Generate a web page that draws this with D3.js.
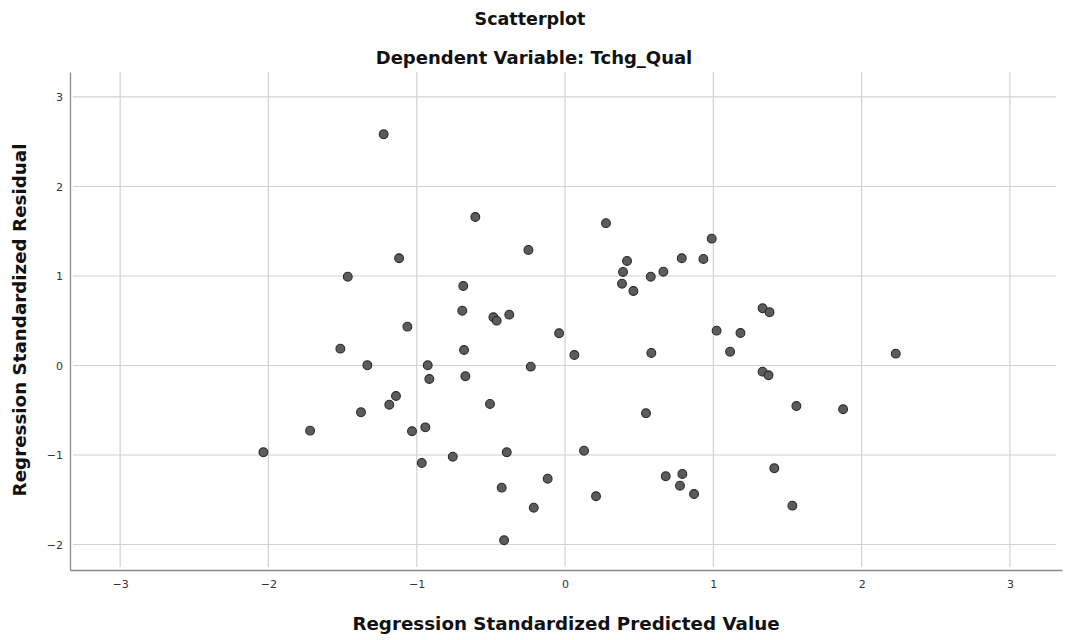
<!DOCTYPE html>
<html>
<head>
<meta charset="utf-8">
<script src="https://cdn.jsdelivr.net/npm/d3@7"></script>
<style>
  body { margin: 0; background: #fff; }
</style>
</head>
<body>
<div id="chart"></div>
<script>
// regression standardized predicted value (x) and residual (y)
const predicted = [
  -1.223, -0.605, 0.276, -0.247, 0.989, -1.119, -1.465, 0.418, 0.787, 0.933,
  0.391, 0.663, 0.578, 0.384, 0.461, -0.686, -0.693, -1.063, -0.483, -0.461,
  -0.376, -0.040, 1.022, 1.183, 1.332, 1.379, -1.515, -1.333, -0.681, 0.063,
  0.582, 1.113, 2.230, -0.231, -0.926, -0.915, -0.672, 1.332, 1.372, -1.140,
  -1.185, -0.506, -1.376, 0.546, 1.560, 1.875, -1.719, -1.032, -0.942, -2.034,
  -0.966, -0.757, -0.393, 0.128, -0.117, -0.427, -0.211, -0.411, 0.209, 0.679,
  0.791, 0.775, 0.870, 1.411, 1.533
];
const residual = [
  2.583, 1.659, 1.590, 1.291, 1.417, 1.198, 0.992, 1.168, 1.198, 1.190,
  1.045, 1.048, 0.992, 0.914, 0.832, 0.888, 0.612, 0.434, 0.539, 0.501,
  0.568, 0.360, 0.389, 0.363, 0.639, 0.594, 0.188, 0.002, 0.173, 0.117,
  0.140, 0.154, 0.132, -0.013, 0.002, -0.151, -0.121, -0.069, -0.109, -0.341,
  -0.438, -0.430, -0.523, -0.534, -0.453, -0.489, -0.728, -0.735, -0.691, -0.970,
  -1.089, -1.019, -0.970, -0.952, -1.265, -1.365, -1.589, -1.953, -1.461, -1.238,
  -1.212, -1.343, -1.436, -1.149, -1.566
];
const xTicks = [-3, -2, -1, 0, 1, 2, 3];
const yTicks = [-2, -1, 0, 1, 2, 3];

const titleText = "Scatterplot";
const subtitleText = "Dependent Variable: Tchg_Qual";
const xLabel = "Regression Standardized Predicted Value";
const yLabel = "Regression Standardized Residual";

const margin = {top: 72, right: 23, bottom: 70, left: 70};
const visWidth = 1085 - margin.left - margin.right;
const visHeight = 640 - margin.top - margin.bottom;

const svg = d3.select('#chart').append('svg')
  .attr('width', 1085)
  .attr('height', 640)
  .style('font-family', '"DejaVu Sans", sans-serif');

const g = svg.append('g')
  .attr('transform', `translate(${margin.left}, ${margin.top})`);

const data = predicted.map((p, i) => ({x: p, y: residual[i]}));

const x = d3.scaleLinear()
  .domain([-3.338, 3.351])
  .range([0, visWidth]);

const y = d3.scaleLinear()
  .domain([-2.285, 3.279])
  .range([visHeight, 0]);

// titles
svg.append('text')
  .attr('x', 530)
  .attr('y', 25)
  .attr('text-anchor', 'middle')
  .attr('font-size', '17.5px')
  .attr('font-weight', 'bold')
  .attr('fill', '#111')
  .text(titleText);

svg.append('text')
  .attr('x', 534)
  .attr('y', 64)
  .attr('text-anchor', 'middle')
  .attr('font-size', '18px')
  .attr('font-weight', 'bold')
  .attr('fill', '#111')
  .text(subtitleText);

// grid
const lightgray = '#d2d2d2';
const grid = g.append('g').attr('class', 'grid');
grid.append('g')
  .selectAll('line')
  .data(yTicks)
  .join('line')
  .attr('stroke', lightgray)
  .attr('stroke-width', 1.2)
  .attr('x1', 3)
  .attr('x2', visWidth - 6)
  .attr('y1', d => y(d))
  .attr('y2', d => y(d));
grid.append('g')
  .selectAll('line')
  .data(xTicks)
  .join('line')
  .attr('stroke', lightgray)
  .attr('stroke-width', 1.2)
  .attr('x1', d => x(d))
  .attr('x2', d => x(d))
  .attr('y1', 0)
  .attr('y2', visHeight - 3);

// axes
const xAxis = d3.axisBottom(x)
  .tickValues(xTicks)
  .tickSize(0)
  .tickPadding(10)
  .tickFormat(d3.format('d'));
const yAxis = d3.axisLeft(y)
  .tickValues(yTicks)
  .tickSize(0)
  .tickPadding(7)
  .tickFormat(d3.format('d'));

g.append('g')
  .attr('transform', `translate(0, ${visHeight})`)
  .call(xAxis)
  .call(a => a.select('.domain').attr('stroke', '#8a8a8a').attr('stroke-width', 1.3))
  .call(a => a.selectAll('text').attr('font-size', '11px').attr('fill', '#333')
    .attr('font-family', '"DejaVu Sans", sans-serif'));

g.append('g')
  .call(yAxis)
  .call(a => a.select('.domain').attr('stroke', '#8a8a8a').attr('stroke-width', 1.3))
  .call(a => a.selectAll('text').attr('font-size', '11px').attr('fill', '#333')
    .attr('font-family', '"DejaVu Sans", sans-serif'));

// axis titles
svg.append('text')
  .attr('x', 566)
  .attr('y', 630)
  .attr('text-anchor', 'middle')
  .attr('font-size', '18.3px')
  .attr('font-weight', 'bold')
  .attr('fill', '#111')
  .text(xLabel);

svg.append('text')
  .attr('transform', 'translate(26, 320) rotate(-90)')
  .attr('text-anchor', 'middle')
  .attr('font-size', '18.3px')
  .attr('font-weight', 'bold')
  .attr('fill', '#111')
  .text(yLabel);

// points
g.append('g')
  .selectAll('circle')
  .data(data)
  .join('circle')
  .attr('cx', d => x(d.x))
  .attr('cy', d => y(d.y))
  .attr('r', 4.4)
  .attr('fill', '#5c5c5c')
  .attr('stroke', '#2a2a2a')
  .attr('stroke-width', 1.1);
</script>
</body>
</html>
